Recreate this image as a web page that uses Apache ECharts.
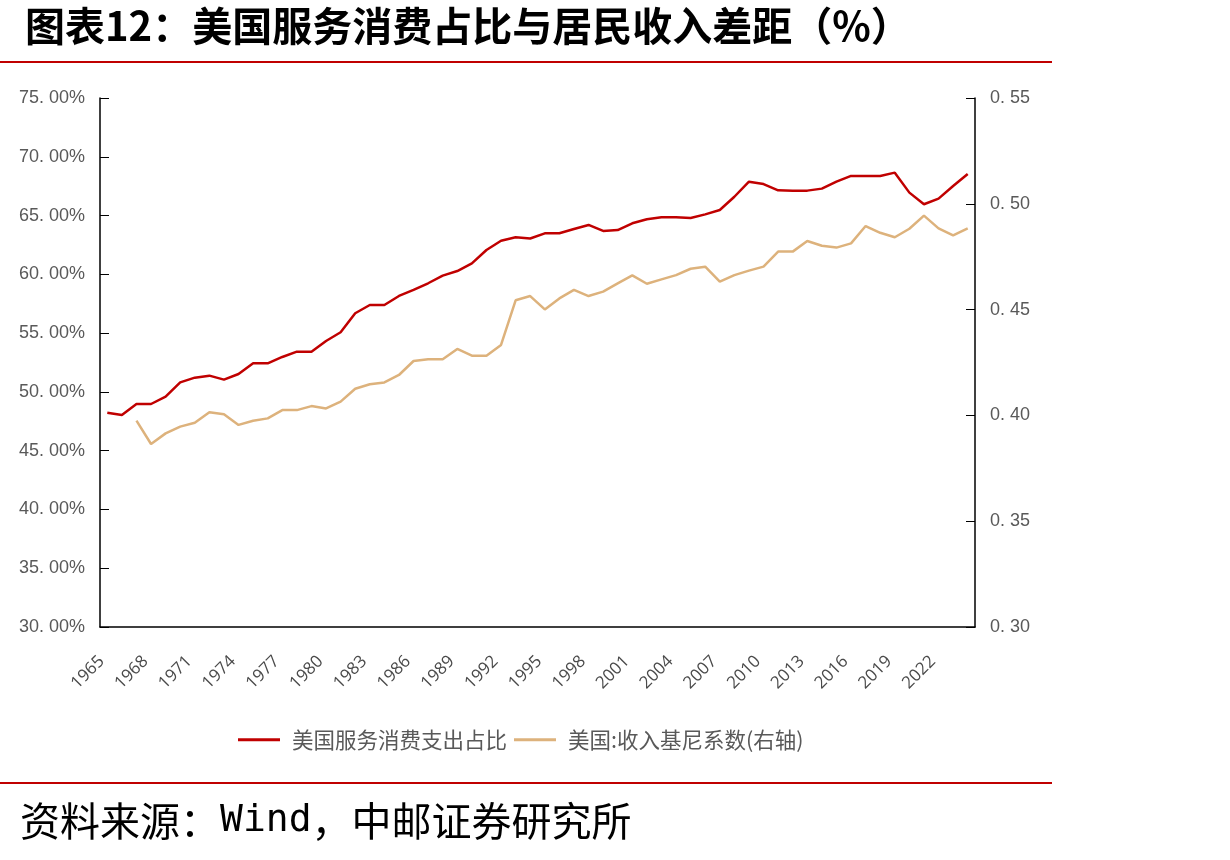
<!DOCTYPE html>
<html>
<head>
<meta charset="utf-8">
<script src="https://cdn.jsdelivr.net/npm/echarts@6/dist/echarts.min.js"></script>
<style>
html,body{margin:0;padding:0;background:#fff;}
#chart{width:1230px;height:860px;}
</style>
</head>
<body>
<div id="chart"></div>
<script>
var years = [];
for (var y = 1965; y <= 2024; y++) years.push(String(y));

var serviceShare = [
48.23,48.03,48.97,48.97,49.59,50.81,51.21,51.38,51.04,51.52,
52.43,52.43,52.97,53.42,53.42,54.33,55.07,56.69,57.39,57.39,
58.16,58.67,59.24,59.89,60.28,60.93,62.07,62.86,63.15,63.05,
63.49,63.49,63.86,64.20,63.69,63.77,64.34,64.68,64.85,64.85,
64.79,65.10,65.47,66.60,67.88,67.68,67.15,67.12,67.12,67.29,
67.88,68.37,68.37,68.37,68.65,66.95,65.96,66.44,67.51,68.54
];

var gini = [
null,null,0.3975,0.3865,0.3915,0.3947,0.3965,0.4015,0.4005,0.3955,
0.3975,0.3986,0.4025,0.4025,0.4044,0.4033,0.4065,0.4126,0.4147,0.4156,
0.4191,0.4257,0.4265,0.4265,0.4314,0.4282,0.4282,0.4333,0.4544,0.4564,
0.4501,0.4553,0.4593,0.4564,0.4585,0.4624,0.4662,0.4622,0.4643,0.4663,
0.4693,0.4703,0.4632,0.4663,0.4684,0.4703,0.4774,0.4774,0.4824,0.4802,
0.4793,0.4813,0.4895,0.4863,0.4842,0.4882,0.4944,0.4884,0.4851,0.4884
];

var leftTickLabels = ['30. 00%','35. 00%','40. 00%','45. 00%','50. 00%','55. 00%','60. 00%','65. 00%','70. 00%','75. 00%'];
var rightTickLabels = ['0. 30','0. 35','0. 40','0. 45','0. 50','0. 55'];

var seriesNames = ['美国服务消费支出占比','美国:收入基尼系数(右轴)'];
var titleText = '图表12：美国服务消费占比与居民收入差距（%）';
var sourcePre = '资料来源：';
var sourceWind = 'Wind';
var sourcePost = '，中邮证券研究所';

var chart = echarts.init(document.getElementById('chart'));
var axisColor = '#000';
var labelColor = '#595959';

chart.setOption({
  backgroundColor: '#fff',
  animation: false,
  title: {
    text: titleText,
    left: 20,
    top: 1,
    textStyle: {fontFamily: 'Noto Sans CJK SC', fontWeight: 'bold', fontSize: 40, color: '#000'}
  },
  graphic: [
    {type: 'line', shape: {x1: 0, y1: 62, x2: 1052, y2: 62}, style: {stroke: '#C00000', lineWidth: 2}},
    {type: 'line', shape: {x1: 0, y1: 783, x2: 1052, y2: 783}, style: {stroke: '#C00000', lineWidth: 2}},
    {type: 'text', left: 20, top: 801, style: {
      text: '{a|' + sourcePre + '}{b|' + sourceWind + '}{a|' + sourcePost + '}',
      rich: {
        a: {fontFamily: 'Noto Sans CJK SC', fontSize: 40, fill: '#000', color: '#000'},
        b: {fontFamily: 'DejaVu Sans Mono', fontSize: 38, fill: '#000', color: '#000'}
      }
    }}
  ],
  legend: {
    left: 233,
    top: 724,
    itemGap: 7,
    itemWidth: 42,
    itemHeight: 3,
    icon: 'rect',
    textStyle: {fontFamily: 'Noto Sans CJK SC', fontSize: 21.5, color: labelColor, padding: [0, 0, 0, 7]},
    data: seriesNames
  },
  grid: {left: 100, right: 255, top: 98, bottom: 233, containLabel: false},
  xAxis: {
    type: 'category',
    data: years,
    boundaryGap: true,
    axisLine: {lineStyle: {color: axisColor, width: 1.5}},
    axisTick: {inside: true, length: 6, interval: 2, lineStyle: {color: axisColor}},
    axisLabel: {interval: 2, rotate: 45, margin: 26, padding: [0, 8, 0, 0], fontFamily: 'Open Sans', fontSize: 17, color: '#4a4a4a'}
  },
  yAxis: [
    {
      type: 'value', min: 30, max: 75, interval: 5, position: 'left',
      axisLine: {show: true, lineStyle: {color: axisColor, width: 1.5}},
      axisTick: {show: true, inside: true, length: 9, lineStyle: {color: axisColor}},
      splitLine: {show: false},
      axisLabel: {margin: 15, fontFamily: 'Liberation Sans', fontSize: 18, color: labelColor,
        formatter: function (v) { return leftTickLabels[Math.round((v - 30) / 5)]; }}
    },
    {
      type: 'value', min: 0.30, max: 0.55, interval: 0.05, position: 'right',
      axisLine: {show: true, lineStyle: {color: axisColor, width: 1.5}},
      axisTick: {show: true, inside: true, length: 9, lineStyle: {color: axisColor}},
      splitLine: {show: false},
      axisLabel: {margin: 15, fontFamily: 'Liberation Sans', fontSize: 18, color: labelColor,
        formatter: function (v) { return rightTickLabels[Math.round((v - 0.30) / 0.05)]; }}
    }
  ],
  series: [
    {
      name: seriesNames[0], type: 'line', yAxisIndex: 0, data: serviceShare,
      symbol: 'none', lineStyle: {color: '#C00000', width: 2.5}, itemStyle: {color: '#C00000'}
    },
    {
      name: seriesNames[1], type: 'line', yAxisIndex: 1, data: gini,
      symbol: 'none', lineStyle: {color: '#DDB27C', width: 2.5}, itemStyle: {color: '#DDB27C'}
    }
  ]
});
</script>
</body>
</html>
